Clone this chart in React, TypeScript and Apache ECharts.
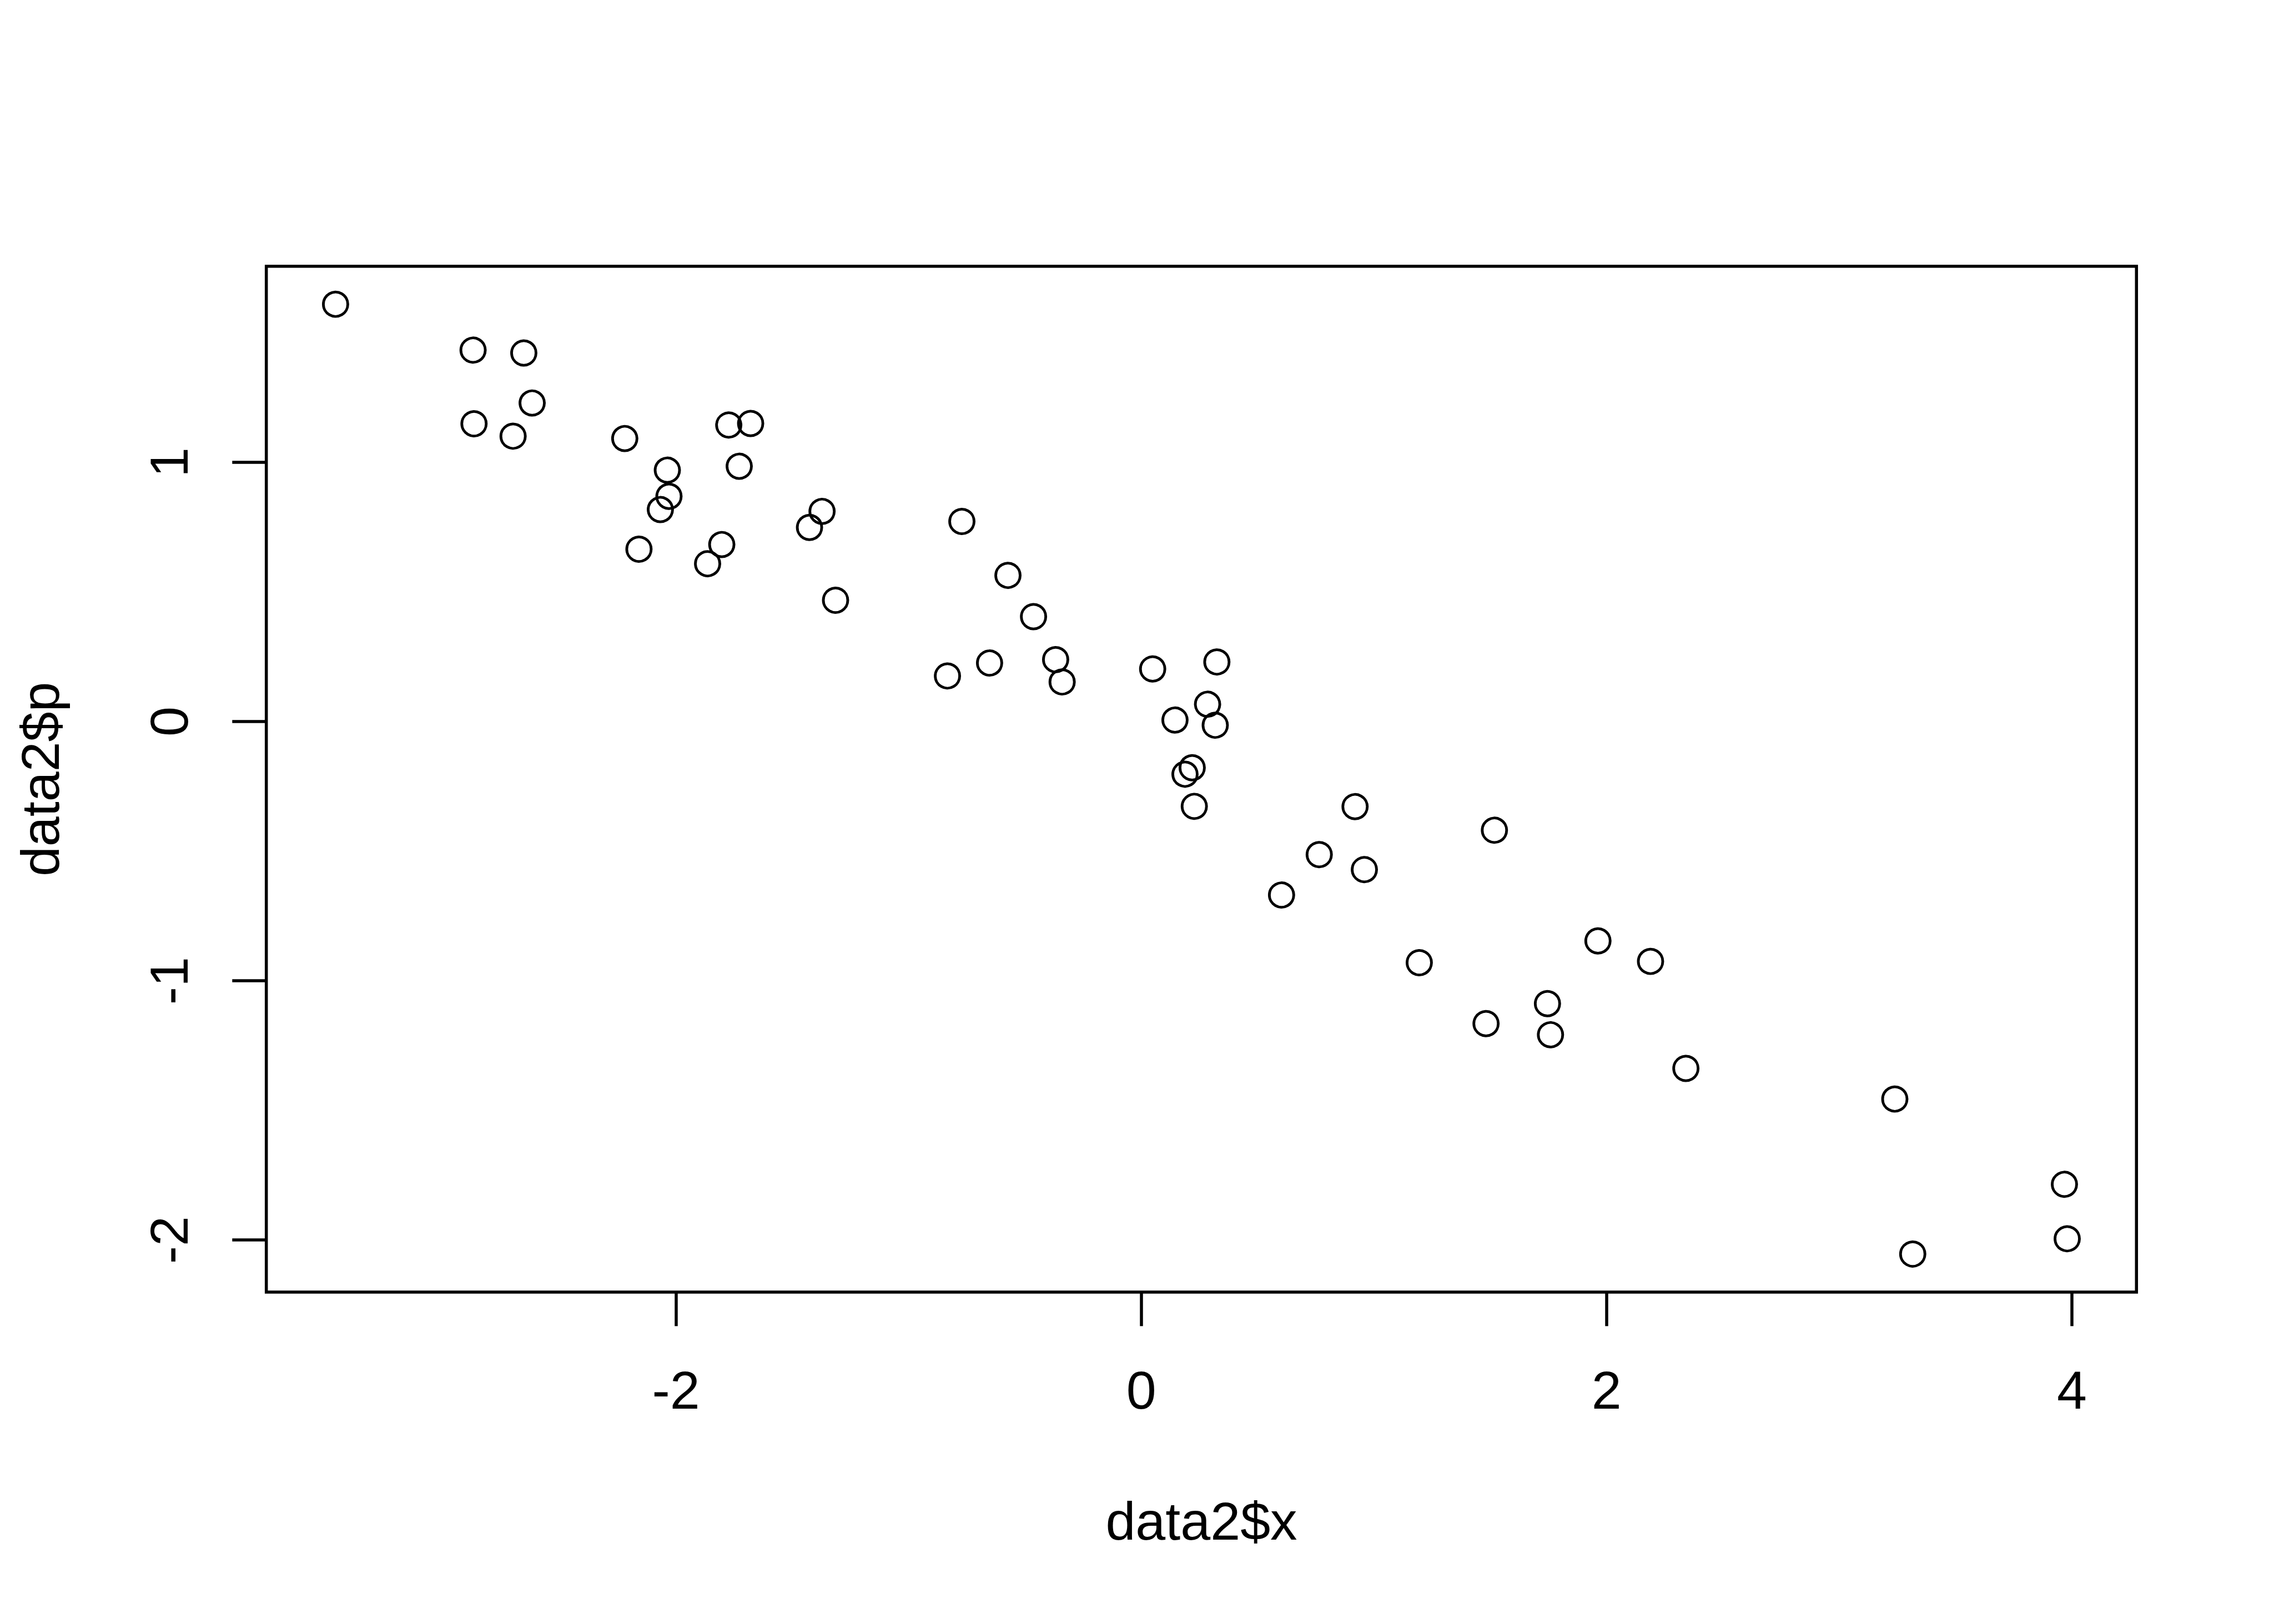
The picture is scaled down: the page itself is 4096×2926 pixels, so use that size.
import React, { useEffect, useRef } from "react";
import * as echarts from "echarts";

// data2$x and data2$p
const xValues = [
  -3.463, -2.872, -2.654, -2.618, -2.868, -2.7, -2.22, -1.773, -1.679, -2.037,
  -1.728, -2.03, -2.067, -1.372, -1.426, -2.159, -1.803, -1.864, -1.314, -0.771,
  -0.573, -0.463, -0.833, -0.652, -0.368, -0.34, 0.049, 0.325, 0.285, 0.145,
  0.318, 0.219, 0.188, 0.228, 0.919, 1.518, 0.765, 0.959, 0.603, 1.195,
  1.963, 2.189, 1.746, 1.482, 1.759, 2.341, 3.239, 3.968, 3.98, 3.316,
];
const pValues = [
  1.61, 1.433, 1.422, 1.229, 1.149, 1.101, 1.092, 1.144, 1.15, 0.97,
  0.985, 0.869, 0.818, 0.811, 0.749, 0.665, 0.683, 0.609, 0.468, 0.772,
  0.564, 0.405, 0.176, 0.226, 0.239, 0.153, 0.203, 0.23, 0.067, 0.006,
  -0.014, -0.178, -0.203, -0.327, -0.328, -0.419, -0.513, -0.571, -0.669, -0.93,
  -0.846, -0.925, -1.088, -1.165, -1.208, -1.338, -1.456, -1.785, -1.995, -2.054,
];
const xTicks = [-2, 0, 2, 4];
const yTicks = [-2, -1, 0, 1];
const xTitle = "data2$x";
const yTitle = "data2$p";

const FONT = "'Liberation Sans', Arial, Helvetica, sans-serif";

function rLimits(vals: number[]): [number, number] {
  const lo = Math.min(...vals);
  const hi = Math.max(...vals);
  const pad = (hi - lo) * 0.04;
  return [lo - pad, hi + pad];
}

export default function App() {
  const ref = useRef<HTMLDivElement>(null);
  useEffect(() => {
    const chart = echarts.init(ref.current!, null, { renderer: "svg" });
    const [xmin, xmax] = rLimits(xValues);
    const [ymin, ymax] = rLimits(pValues);
    const data = xValues.map((x, i) => [x, pValues[i]]);
    chart.setOption({
      animation: false,
      backgroundColor: "#ffffff",
      grid: {
        left: 479.7,
        top: 479.7,
        width: 3368.6,
        height: 1848.2,
        show: true,
        borderColor: "#000",
        borderWidth: 5.5,
        backgroundColor: "transparent",
      },
      xAxis: {
        type: "value",
        position: "bottom",
        min: xmin,
        max: xmax,
        name: xTitle,
        nameLocation: "middle",
        nameGap: 413,
        nameTextStyle: {
          fontFamily: FONT,
          fontSize: 97,
          color: "#000",
          verticalAlign: "middle",
          align: "center",
        },
        axisLine: { show: false, onZero: false },
        splitLine: { show: false },
        axisTick: {
          show: true,
          inside: false,
          length: 61.4,
          customValues: xTicks,
          lineStyle: { color: "#000", width: 5.5 },
        },
        axisLabel: {
          customValues: xTicks,
          margin: 177,
          fontFamily: FONT,
          fontSize: 97,
          color: "#000",
          verticalAlign: "middle",
          align: "center",
          showMinLabel: true,
          showMaxLabel: true,
        },
      },
      yAxis: {
        type: "value",
        position: "left",
        min: ymin,
        max: ymax,
        name: yTitle,
        nameLocation: "middle",
        nameGap: 407,
        nameTextStyle: {
          fontFamily: FONT,
          fontSize: 97,
          color: "#000",
          verticalAlign: "middle",
          align: "center",
        },
        axisLine: { show: false, onZero: false },
        splitLine: { show: false },
        axisTick: {
          show: true,
          inside: false,
          length: 61.4,
          customValues: yTicks,
          lineStyle: { color: "#000", width: 5.5 },
        },
        axisLabel: {
          customValues: yTicks,
          rotate: 90,
          margin: 175,
          fontFamily: FONT,
          fontSize: 97,
          color: "#000",
          verticalAlign: "middle",
          align: "center",
        },
      },
      series: [
        {
          type: "scatter",
          data,
          symbol: "circle",
          symbolSize: 44,
          itemStyle: {
            color: "transparent",
            borderColor: "#000",
            borderWidth: 4.9,
            opacity: 1,
          },
          emphasis: { disabled: true },
        },
      ],
    });
    return () => chart.dispose();
  }, []);
  return (
    <div
      ref={ref}
      style={{
        position: "fixed",
        left: 0,
        top: 0,
        width: 4096,
        height: 2926,
        background: "#fff",
      }}
    />
  );
}
